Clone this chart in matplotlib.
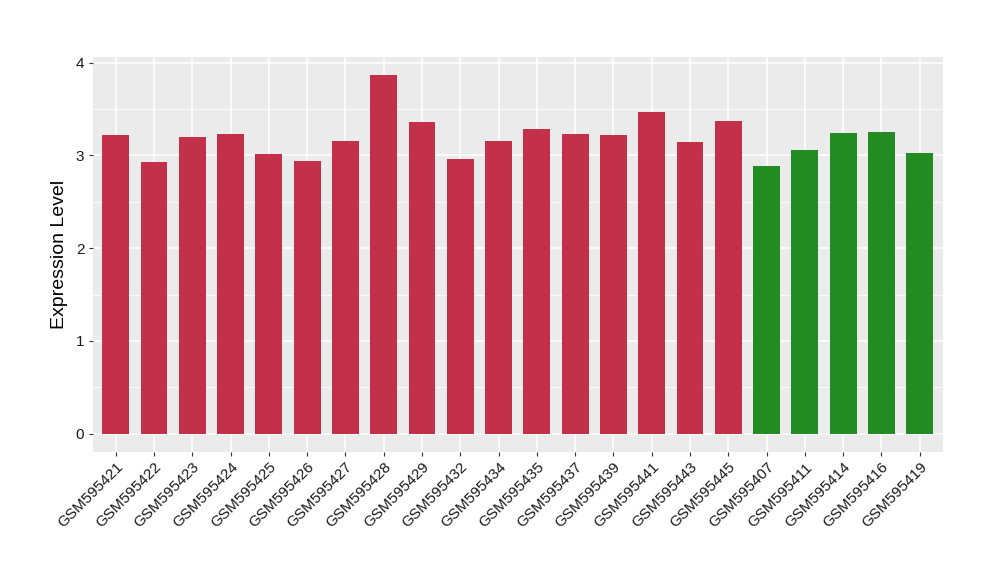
import matplotlib
matplotlib.use("Agg")
import matplotlib.pyplot as plt
import numpy as np

plt.rcParams['font.family'] = ['Liberation Sans', 'DejaVu Sans']

samples = ["GSM595421", "GSM595422", "GSM595423", "GSM595424", "GSM595425", "GSM595426",
           "GSM595427", "GSM595428", "GSM595429", "GSM595432", "GSM595434", "GSM595435",
           "GSM595437", "GSM595439", "GSM595441", "GSM595443", "GSM595445",
           "GSM595407", "GSM595411", "GSM595414", "GSM595416", "GSM595419"]
values = [3.225, 2.93, 3.20, 3.235, 3.02, 2.94, 3.16, 3.87, 3.355, 2.965, 3.16, 3.28,
          3.235, 3.225, 3.47, 3.14, 3.375, 2.89, 3.06, 3.245, 3.255, 3.03]
groups = ["a"] * 17 + ["b"] * 5
group_colors = {"a": "#C3304A", "b": "#228B22"}

fig = plt.figure(figsize=(10, 5.8), dpi=100)
ax = fig.add_axes([0.0927, 0.2212, 0.85, 0.681])
ax.set_facecolor("#EBEBEB")

x = np.arange(len(samples))
ax.bar(x, values, width=0.7, color=[group_colors[g] for g in groups], zorder=3)

ymax = max(values)
ax.set_ylim(-0.05 * ymax, ymax * 1.05)
ax.set_xlim(-0.6, len(samples) - 0.4)

ax.set_yticks([0, 1, 2, 3, 4])
ax.set_yticks([0.5, 1.5, 2.5, 3.5], minor=True)
ax.set_xticks(x)
ax.set_xticklabels(samples, rotation=45, ha="right", va="top", rotation_mode="anchor")

ax.grid(which="major", color="white", linewidth=1.1, zorder=0)
ax.grid(which="minor", axis="y", color="white", linewidth=0.55, zorder=0)
ax.set_axisbelow(True)

for s in ax.spines.values():
    s.set_visible(False)

ax.tick_params(axis="both", which="major", length=3, width=0.8, color="#333333",
               labelsize=11, labelcolor="#1a1a1a", pad=3)
ax.tick_params(axis="both", which="minor", length=0)

ax.set_ylabel("Expression Level", fontsize=14, color="black", labelpad=6)

fig.savefig("out.png", dpi=100)
